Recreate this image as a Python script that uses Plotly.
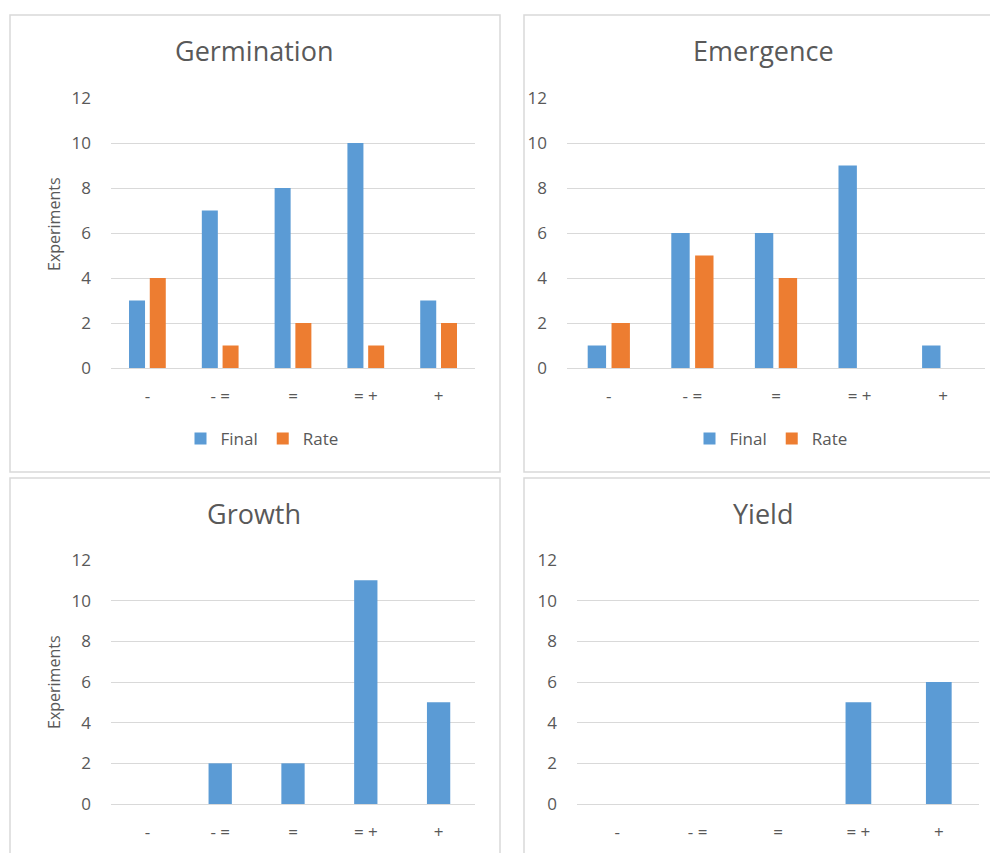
import plotly.graph_objects as go

# Categories and counts per panel
categories = ["-", "- =", "=", "= +", "+"]
germination_final = [3, 7, 8, 10, 3]
germination_rate = [4, 1, 2, 1, 2]
emergence_final = [1, 6, 6, 9, 1]
emergence_rate = [2, 5, 4, 0, 0]
growth_final = [0, 2, 2, 11, 5]
yield_final = [0, 0, 0, 5, 6]
y_ticks = [0, 2, 4, 6, 8, 10, 12]

BLUE = "#5B9BD5"
ORANGE = "#ED7D31"
TEXT = "#595959"
GRID = "#D9D9D9"
FONT = "Open Sans"

W, H = 990, 853


def px_x(p):
    return p / W


def px_y(p):
    return 1 - p / H


pair_w = 0.22
pair_gap = 0.065
single_w = 0.32
no_outline = dict(width=0)

fig = go.Figure()

# Two-series panels
fig.add_trace(go.Bar(x=categories, y=germination_final, name="Final",
                     marker=dict(color=BLUE, line=no_outline),
                     width=pair_w, offset=-(pair_w + pair_gap / 2), xaxis="x", yaxis="y",
                     legend="legend"))
fig.add_trace(go.Bar(x=categories, y=germination_rate, name="Rate",
                     marker=dict(color=ORANGE, line=no_outline),
                     width=pair_w, offset=pair_gap / 2, xaxis="x", yaxis="y",
                     legend="legend"))
fig.add_trace(go.Bar(x=categories, y=emergence_final, name="Final",
                     marker=dict(color=BLUE, line=no_outline),
                     width=pair_w, offset=-(pair_w + pair_gap / 2), xaxis="x2", yaxis="y2",
                     legend="legend2"))
fig.add_trace(go.Bar(x=categories, y=emergence_rate, name="Rate",
                     marker=dict(color=ORANGE, line=no_outline),
                     width=pair_w, offset=pair_gap / 2, xaxis="x2", yaxis="y2",
                     legend="legend2"))
# Single-series panels
fig.add_trace(go.Bar(x=categories, y=growth_final, name="Final",
                     marker=dict(color=BLUE, line=no_outline),
                     width=single_w, offset=-single_w / 2, xaxis="x3", yaxis="y3",
                     showlegend=False))
fig.add_trace(go.Bar(x=categories, y=yield_final, name="Final",
                     marker=dict(color=BLUE, line=no_outline),
                     width=single_w, offset=-single_w / 2, xaxis="x4", yaxis="y4",
                     showlegend=False))

panels = {
    "": dict(x=(111, 475), y=(98, 368)),
    "2": dict(x=(567, 985), y=(98, 368)),
    "3": dict(x=(111, 475), y=(560, 804)),
    "4": dict(x=(577, 979), y=(560, 804)),
}

layout = dict(
    width=W, height=H,
    margin=dict(l=0, r=0, t=0, b=0, autoexpand=False),
    paper_bgcolor="white", plot_bgcolor="white",
    barmode="overlay",
    font=dict(family=FONT, color=TEXT),
)

for suffix, g in panels.items():
    layout["xaxis" + suffix] = dict(
        domain=[px_x(g["x"][0]), px_x(g["x"][1])],
        anchor="y" + suffix,
        type="category",
        categoryorder="array", categoryarray=categories,
        range=[-0.5, 4.5],
        showgrid=False, showline=False, zeroline=False,
        ticks="", ticklabelstandoff=16, automargin=False,
        tickfont=dict(family=FONT, size=17, color=TEXT),
        fixedrange=True,
    )
    layout["yaxis" + suffix] = dict(
        domain=[px_y(g["y"][1]), px_y(g["y"][0])],
        anchor="x" + suffix,
        range=[0, 12],
        tickvals=y_ticks,
        showgrid=True, gridcolor=GRID, gridwidth=1,
        zeroline=True, zerolinecolor=GRID, zerolinewidth=1,
        showline=False, ticks="", ticklabelstandoff=19, automargin=False,
        tickfont=dict(family=FONT, size=17, color=TEXT),
        fixedrange=True,
    )

legend_common = dict(
    orientation="h", xanchor="center", yanchor="middle",
    font=dict(family=FONT, size=17, color=TEXT),
    bgcolor="rgba(0,0,0,0)", itemwidth=30, tracegroupgap=0,
)
layout["legend"] = dict(legend_common, x=px_x(262), y=px_y(439))
layout["legend2"] = dict(legend_common, x=px_x(771), y=px_y(439))

annotations = []
titles = [("Germination", 254, 51), ("Emergence", 763, 51),
          ("Growth", 254, 513), ("Yield", 763, 513)]
for text, cx, cy in titles:
    annotations.append(dict(text=text, x=px_x(cx), y=px_y(cy), xref="paper", yref="paper",
                            xanchor="center", yanchor="middle", showarrow=False,
                            font=dict(family=FONT, size=27, color=TEXT)))
for cy in (224, 682):
    annotations.append(dict(text="Experiments", x=px_x(54), y=px_y(cy), xref="paper",
                            yref="paper", xanchor="center", yanchor="middle",
                            textangle=-90, showarrow=False,
                            font=dict(family=FONT, size=16, color=TEXT)))
layout["annotations"] = annotations

# Chart-area frames around each panel
frames = [(10, 500, 15, 472), (524, 1000, 15, 472), (10, 500, 478, 870), (524, 1000, 478, 870)]
shapes = []
for x0, x1, y0, y1 in frames:
    shapes.append(dict(type="rect", xref="paper", yref="paper",
                       x0=px_x(x0), x1=px_x(x1), y0=px_y(y1), y1=px_y(y0),
                       line=dict(color=GRID, width=1.5), fillcolor="rgba(0,0,0,0)",
                       layer="below"))
layout["shapes"] = shapes

fig.update_layout(**layout)
fig.write_html("out.html")
